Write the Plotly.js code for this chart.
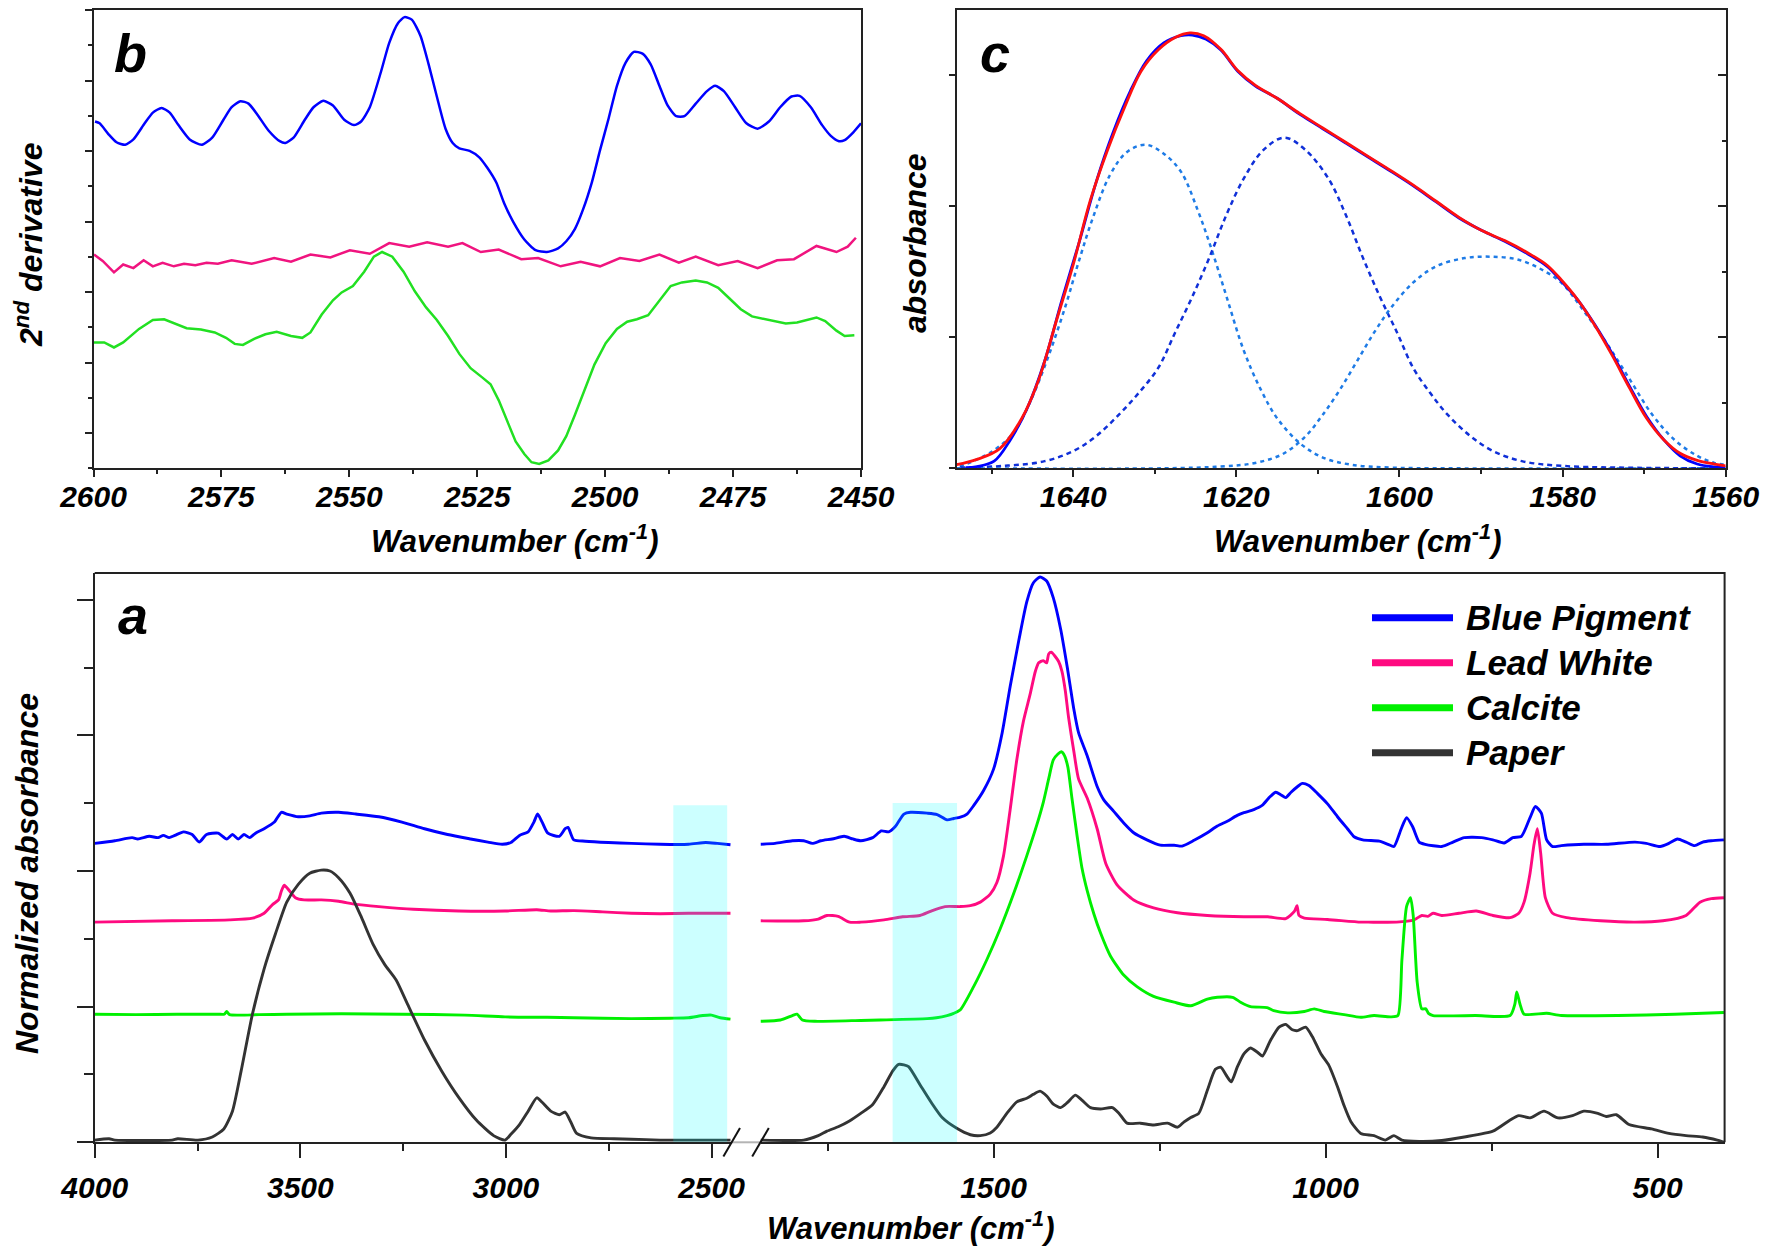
<!DOCTYPE html>
<html><head><meta charset="utf-8">
<script src="https://cdn.plot.ly/plotly-3.0.1.min.js"></script>
<style>html,body{margin:0;padding:0;background:#fff;}#chart{width:1770px;height:1257px;}</style>
</head><body><div id="chart"></div>
<script>
// ---------- Panel a : FTIR spectra (normalized absorbance, stacked) ----------
const seriesNames = ['Blue Pigment', 'Lead White', 'Calcite', 'Paper'];
const seriesColors = ['#0000FF', '#FF0A80', '#00F000', '#333333'];

// left segment 4000-2450 cm-1
const blueWnL = [4000,3951,3909,3895,3867,3846,3833,3819,3805,3784,3763,3746,3728,3700,3679,3665,3651,3637,3623,3609,3588,3563,3546,3533,3505,3477,3449,3407,3365,3309,3253,3198,3142,3086,3044,3009,2988,2967,2946,2932,2923,2912,2898,2870,2856,2849,2835,2807,2751,2695,2625,2556,2514,2486,2454];
const blueAbsL = [6.72,6.78,6.85,6.82,6.88,6.85,6.90,6.85,6.90,6.98,6.92,6.75,6.92,6.95,6.82,6.92,6.82,6.92,6.85,6.95,7.05,7.20,7.42,7.38,7.32,7.34,7.40,7.42,7.38,7.32,7.20,7.05,6.92,6.82,6.75,6.70,6.74,6.90,6.98,7.20,7.38,7.20,6.95,6.88,7.05,7.08,6.80,6.77,6.74,6.72,6.70,6.70,6.74,6.72,6.69];
const leadWnL = [4000,3812,3672,3616,3588,3567,3553,3546,3539,3526,3512,3491,3449,3407,3365,3309,3225,3114,3002,2925,2891,2835,2765,2695,2625,2556,2454];
const leadAbsL = [4.95,4.98,5.00,5.04,5.15,5.35,5.45,5.65,5.78,5.65,5.50,5.45,5.45,5.42,5.35,5.30,5.24,5.20,5.20,5.23,5.20,5.21,5.18,5.15,5.14,5.15,5.15];
const calWnL = [4000,3900,3800,3700,3685,3679,3672,3600,3533,3400,3253,3100,3002,2900,2835,2695,2600,2556,2521,2500,2479,2454];
const calAbsL = [2.88,2.87,2.88,2.88,2.88,2.94,2.87,2.87,2.88,2.89,2.88,2.86,2.82,2.81,2.80,2.78,2.79,2.80,2.85,2.86,2.80,2.77];
const paperWnL = [4000,3965,3951,3812,3798,3749,3714,3686,3665,3644,3616,3588,3560,3533,3505,3477,3449,3428,3407,3379,3351,3323,3295,3267,3239,3198,3156,3114,3072,3030,3002,2988,2967,2946,2925,2912,2891,2870,2856,2842,2828,2793,2737,2695,2625,2556,2454];
const paperAbsL = [0.05,0.08,0.05,0.05,0.08,0.05,0.12,0.30,0.70,1.60,2.90,3.90,4.70,5.40,5.80,6.05,6.12,6.10,5.95,5.60,5.05,4.45,4.00,3.65,3.10,2.30,1.60,1.00,0.50,0.15,0.05,0.18,0.40,0.70,1.00,0.90,0.70,0.62,0.68,0.45,0.20,0.10,0.08,0.07,0.05,0.05,0.05];

// right segment 1850-400 cm-1
const blueWnR = [1851,1829,1803,1786,1773,1760,1743,1725,1712,1700,1682,1669,1658,1648,1635,1625,1600,1585,1570,1560,1550,1540,1530,1515,1500,1487,1475,1462,1450,1440,1430,1420,1410,1399,1389,1379,1372,1359,1344,1334,1319,1304,1289,1269,1249,1228,1216,1198,1178,1163,1148,1133,1123,1108,1095,1085,1075,1067,1060,1052,1042,1035,1025,1012,997,982,967,957,944,919,906,897,886,878,869,859,850,825,808,791,765,748,731,718,705,692,684,675,667,658,645,611,577,534,517,496,483,470,457,444,432,419,400];
const blueAbsR = [6.70,6.72,6.78,6.78,6.72,6.78,6.82,6.88,6.82,6.78,6.85,7.00,6.98,7.10,7.38,7.42,7.40,7.37,7.25,7.28,7.31,7.38,7.57,7.91,8.39,9.21,10.25,11.28,12.15,12.58,12.71,12.62,12.24,11.54,10.68,9.73,9.21,8.69,8.00,7.70,7.44,7.18,6.96,6.80,6.68,6.68,6.66,6.79,6.96,7.11,7.22,7.35,7.41,7.48,7.58,7.75,7.87,7.81,7.75,7.87,8.00,8.07,8.02,7.84,7.61,7.32,7.05,6.87,6.80,6.77,6.70,6.65,7.05,7.30,7.10,6.75,6.70,6.65,6.75,6.85,6.85,6.80,6.73,6.85,6.88,7.30,7.55,7.40,6.80,6.65,6.67,6.70,6.70,6.75,6.72,6.65,6.72,6.82,6.75,6.67,6.75,6.78,6.80];
const leadWnR = [1851,1786,1764,1751,1734,1717,1700,1665,1637,1611,1594,1573,1550,1535,1520,1505,1495,1485,1475,1465,1455,1445,1437,1432,1425,1420,1417,1413,1408,1402,1397,1392,1387,1379,1372,1359,1344,1331,1314,1289,1259,1223,1178,1123,1087,1060,1047,1043,1040,1032,997,947,936,893,867,855,846,838,825,799,773,748,722,709,701,692,686,681,676,669,658,637,586,534,492,457,436,419,400];
const leadAbsR = [4.98,4.98,5.02,5.10,5.08,4.95,4.95,5.00,5.07,5.10,5.20,5.30,5.30,5.32,5.40,5.58,5.84,6.44,7.48,8.60,9.47,10.07,10.59,10.78,10.83,10.78,10.98,11.02,10.94,10.81,10.59,10.16,9.55,8.78,8.17,7.74,7.05,6.27,5.79,5.45,5.27,5.16,5.10,5.07,5.07,5.03,5.19,5.32,5.10,5.04,5.01,4.95,4.95,4.95,5.00,5.10,5.08,5.15,5.10,5.15,5.20,5.10,5.05,5.15,5.40,6.05,6.70,7.05,6.50,5.50,5.15,5.05,4.98,4.95,4.98,5.10,5.40,5.48,5.50];
const calWnR = [1851,1821,1803,1796,1788,1769,1700,1671,1600,1586,1570,1560,1550,1530,1510,1490,1470,1450,1435,1425,1417,1410,1403,1398,1393,1388,1382,1374,1367,1359,1349,1339,1324,1304,1284,1259,1228,1203,1178,1163,1140,1128,1113,1088,1078,1057,1032,1017,1002,972,947,927,902,891,885,878,872,868,862,855,849,845,838,774,722,715,712,707,701,667,645,560,474,400];
const calAbsR = [2.72,2.75,2.85,2.88,2.75,2.72,2.74,2.75,2.78,2.80,2.85,2.90,2.98,3.50,4.11,4.80,5.58,6.44,7.13,7.65,8.17,8.60,8.73,8.78,8.69,8.43,7.74,6.87,6.18,5.66,5.14,4.71,4.19,3.76,3.50,3.28,3.15,3.07,3.22,3.26,3.26,3.15,3.05,3.03,2.96,2.91,2.94,3.00,2.94,2.87,2.81,2.85,2.82,2.85,4.10,5.30,5.50,5.10,3.60,3.00,3.00,2.90,2.85,2.85,2.85,3.10,3.38,3.10,2.88,2.90,2.85,2.85,2.88,2.92];
const paperWnR = [1851,1786,1764,1751,1734,1717,1700,1682,1665,1652,1643,1635,1628,1611,1594,1577,1556,1535,1520,1505,1495,1480,1465,1450,1440,1430,1420,1410,1399,1389,1377,1367,1354,1339,1321,1311,1299,1279,1259,1238,1223,1213,1203,1191,1178,1166,1158,1148,1142,1133,1123,1113,1103,1095,1083,1070,1060,1050,1042,1030,1020,1007,995,982,972,962,947,927,910,897,885,859,825,791,748,722,709,692,671,650,628,611,590,577,562,543,509,483,457,432,410,399];
const paperAbsR = [0.05,0.05,0.15,0.25,0.35,0.48,0.65,0.85,1.25,1.60,1.75,1.74,1.70,1.30,0.90,0.55,0.32,0.17,0.15,0.21,0.34,0.65,0.91,0.99,1.08,1.15,1.04,0.86,0.78,0.89,1.06,0.95,0.78,0.75,0.78,0.65,0.43,0.43,0.39,0.43,0.34,0.46,0.56,0.65,1.17,1.64,1.69,1.47,1.36,1.69,1.99,2.12,2.03,1.94,2.29,2.59,2.65,2.53,2.51,2.59,2.38,1.99,1.73,1.25,0.82,0.47,0.20,0.15,0.05,0.15,0.05,0.02,0.04,0.12,0.25,0.50,0.60,0.55,0.70,0.55,0.60,0.70,0.65,0.58,0.62,0.40,0.30,0.20,0.15,0.12,0.05,0.00];

// highlighted regions (cm-1)
const bandCO = [2593, 2462];
const bandOH = [1652, 1555];
const bandTop = [7.58, 7.63];

// ---------- Panel b : 2nd derivative 2600-2450 ----------
const bBlueWn = [2599.7,2598.8,2597.1,2595.5,2593.8,2592.2,2590,2588.4,2586.7,2585.1,2583.4,2581.2,2578.8,2576.8,2574.6,2573,2571.3,2569.7,2568,2565.8,2563.6,2562.5,2560.9,2558.7,2557,2555.1,2553.2,2551,2549.1,2547.7,2546,2543.8,2542.2,2540.5,2539.2,2537.8,2536.1,2534.5,2532.9,2531.2,2529.8,2528.5,2526.5,2524.6,2523,2521.3,2519.7,2518,2515.8,2513.6,2511.4,2509.2,2507.6,2505.9,2504.3,2502.6,2501,2499.3,2497.7,2496,2494.4,2492.7,2491.1,2489.4,2487.8,2486.1,2484.5,2482.3,2480.1,2478.5,2476.8,2474.6,2472.4,2470.2,2468,2465.8,2463.6,2462,2459.8,2457.6,2455.9,2454.3,2453.2,2451.5,2450];
const bBlueVal = [9.70,9.65,9.35,9.12,9.05,9.20,9.65,9.95,10.08,9.95,9.60,9.20,9.05,9.25,9.75,10.10,10.27,10.20,9.90,9.45,9.15,9.10,9.25,9.75,10.10,10.28,10.15,9.75,9.60,9.70,10.10,11.10,11.90,12.45,12.62,12.55,12.10,11.30,10.40,9.50,9.10,8.95,8.88,8.70,8.40,8.00,7.40,6.90,6.40,6.10,6.05,6.15,6.35,6.70,7.25,8.00,8.90,9.80,10.70,11.35,11.65,11.60,11.30,10.70,10.15,9.85,9.85,10.20,10.55,10.70,10.55,10.10,9.65,9.50,9.70,10.10,10.40,10.42,10.10,9.60,9.30,9.15,9.18,9.40,9.65];
const bLeadWn = [2599.9,2598.2,2596,2594.2,2592.2,2590.2,2588.4,2586.5,2584.3,2582.3,2580.1,2577.9,2575.7,2573,2569.1,2564.7,2561.4,2557.6,2553.7,2549.9,2546,2542.2,2538.3,2534.8,2530.7,2527.9,2524.3,2520.8,2516.4,2513.1,2508.7,2504.8,2501,2497.1,2493.3,2489.4,2485.6,2482.3,2477.9,2474.1,2470.2,2466.4,2463.1,2460.3,2458.7,2454.8,2452.6,2451];
const bLeadVal = [5.98,5.80,5.48,5.70,5.60,5.82,5.65,5.75,5.65,5.72,5.68,5.75,5.72,5.82,5.72,5.88,5.78,5.98,5.90,6.10,6.00,6.30,6.20,6.32,6.20,6.30,6.05,6.12,5.85,5.88,5.65,5.78,5.65,5.88,5.80,5.98,5.75,5.92,5.68,5.80,5.60,5.82,5.85,6.10,6.22,6.05,6.20,6.45];
const bCalWn = [2599.9,2597.9,2596,2594.2,2591.1,2588.4,2586.2,2584,2581.8,2579,2576.3,2574.1,2572.4,2570.8,2568.6,2566.4,2564.2,2561.4,2559.2,2557.6,2555.4,2553.2,2551.5,2549.3,2547.1,2545.2,2543.6,2541.6,2539.4,2537.2,2535,2532.9,2530.7,2528.5,2526.3,2524.1,2522.4,2520.8,2519.1,2517.5,2515.8,2514.4,2512.9,2511.1,2509.2,2507.6,2505.9,2504.3,2502.1,2499.9,2497.7,2495.7,2493.8,2491.6,2489.4,2487.2,2485,2482.3,2480.1,2477.9,2475.7,2473.5,2471.3,2468,2464.7,2462.5,2460.3,2458.7,2457,2454.8,2453.2,2451.3];
const bCalVal = [3.52,3.52,3.38,3.52,3.90,4.15,4.17,4.05,3.92,3.88,3.80,3.65,3.48,3.45,3.62,3.75,3.82,3.70,3.65,3.80,4.30,4.70,4.92,5.10,5.50,5.92,6.05,5.92,5.50,4.95,4.50,4.15,3.70,3.20,2.80,2.55,2.35,1.90,1.30,0.75,0.40,0.17,0.12,0.22,0.50,0.90,1.50,2.10,2.90,3.50,3.90,4.10,4.17,4.28,4.70,5.10,5.20,5.25,5.20,5.05,4.75,4.45,4.25,4.15,4.05,4.08,4.15,4.22,4.12,3.85,3.70,3.72];

// ---------- Panel c : curve fitting 1655-1560 ----------
const cMeasWn = [1653.2,1651.8,1649.7,1647.7,1645.6,1643.5,1641.4,1639.3,1637.2,1635.1,1633,1631,1628.9,1626.8,1625.4,1623.7,1621.9,1619.8,1617.7,1615,1612.2,1609.4,1606.6,1603.8,1601,1598.3,1595.5,1592.7,1589.9,1587.1,1584.3,1581.9,1580.2,1578.1,1576,1573.9,1571.8,1569.7,1567.6,1565.6,1563.5,1561.4,1560];
const cMeasVal = [0.02,0.05,0.20,0.80,1.70,3.00,4.70,6.30,8.00,9.40,10.55,11.40,11.90,12.10,12.12,12.00,11.70,11.10,10.70,10.35,9.90,9.50,9.10,8.70,8.30,7.90,7.45,7.00,6.65,6.35,6.00,5.65,5.25,4.70,4.00,3.20,2.30,1.45,0.80,0.35,0.12,0.04,0.02];
const cFitWn = [1654.3,1651.8,1649,1646.3,1644.2,1642.1,1640,1637.9,1635.8,1633.7,1631.7,1629.6,1627.5,1625.7,1624,1621.9,1619.8,1617.7,1615,1612.2,1609.4,1606.6,1603.8,1601,1598.3,1595.5,1592.7,1589.9,1587.1,1584.3,1581.9,1580.2,1578.1,1576,1573.9,1571.8,1569.7,1567.6,1565.6,1563.5,1561.4,1560];
const cFitVal = [0.10,0.25,0.55,1.40,2.50,4.10,5.70,7.50,8.90,10.10,11.10,11.70,12.05,12.18,12.10,11.72,11.12,10.72,10.35,9.92,9.52,9.12,8.72,8.32,7.92,7.47,7.02,6.65,6.37,6.03,5.68,5.28,4.70,3.98,3.15,2.25,1.40,0.80,0.42,0.22,0.12,0.07];
const cBand1Wn = [1653.9,1650.1,1647.3,1645.2,1643.1,1641,1639.3,1637.6,1635.5,1633.4,1631.1,1628.9,1626.8,1624.7,1623,1621.2,1619.1,1617,1615,1612.2,1609.4,1605.9,1601,1594.1,1560];
const cBand1Val = [0.05,0.45,1.0,1.9,3.1,4.5,5.8,7.0,8.2,8.85,9.05,8.80,8.30,7.20,6.10,4.80,3.30,2.20,1.40,0.70,0.30,0.10,0.02,0.00,0.00];
const cBand2Wn = [1653.9,1648.3,1643.5,1640,1637.2,1634.4,1632,1629.6,1627.5,1625.4,1623.3,1621.2,1619.1,1616.7,1614.1,1611.5,1608.7,1606.6,1604.5,1602.4,1600.3,1598.3,1596.2,1594.1,1591.3,1588.5,1585,1580.2,1573.2,1560];
const cBand2Val = [0.02,0.07,0.20,0.48,0.90,1.50,2.10,2.80,3.80,4.80,5.90,7.10,8.10,8.90,9.25,8.90,8.10,7.10,5.90,4.80,3.80,2.80,2.10,1.50,0.90,0.48,0.20,0.07,0.02,0.00];
const cBand3Wn = [1654.3,1628.9,1621.9,1617.7,1614.3,1611.5,1609.4,1607.3,1605.2,1603.1,1601,1598.3,1595.5,1592,1588.9,1585.7,1582.9,1580.2,1577.4,1574.6,1571.8,1569,1566.3,1563.5,1561.4,1560];
const cBand3Val = [0.00,0.00,0.05,0.15,0.40,0.90,1.50,2.20,3.00,3.80,4.50,5.20,5.65,5.88,5.92,5.85,5.60,5.20,4.40,3.50,2.50,1.50,0.80,0.35,0.15,0.10];

// ---------- layout helpers ----------
const W = 1770, H = 1257;
const fx = p => p / W;
const fy = p => 1 - p / H;
const FONT = 'Liberation Sans, Arial, Helvetica, sans-serif';
const AX = '#222222';
const tickFont = {family: FONT, size: 30, color: '#000', weight: 'bold', style: 'italic'};

function line(x, y, xa, ya, color, width, extra) {
  return Object.assign({x: x, y: y, xaxis: xa, yaxis: ya, type: 'scatter', mode: 'lines',
    line: Object.assign({color: color, width: width}, extra || {}), showlegend: false, hoverinfo: 'skip'});
}

const aLeft = [[blueWnL, blueAbsL], [leadWnL, leadAbsL], [calWnL, calAbsL], [paperWnL, paperAbsL]];
const aRight = [[blueWnR, blueAbsR], [leadWnR, leadAbsR], [calWnR, calAbsR], [paperWnR, paperAbsR]];
const traces = [];
for (let i = 0; i < 4; i++) {
  traces.push(line(aLeft[i][0], aLeft[i][1], 'x3', 'y3', seriesColors[i], 2.9, {shape: 'spline', smoothing: 0.6}));
  traces.push(line(aRight[i][0], aRight[i][1], 'x4', 'y3', seriesColors[i], 2.9, {shape: 'spline', smoothing: 0.6}));
}
traces.push(line(bBlueWn, bBlueVal, 'x', 'y', '#0000FF', 2.5, {shape: 'spline', smoothing: 0.6}));
traces.push(line(bLeadWn, bLeadVal, 'x', 'y', '#F0147F', 2.5));
traces.push(line(bCalWn, bCalVal, 'x', 'y', '#22E022', 2.5));
traces.push(line(cBand1Wn, cBand1Val, 'x2', 'y2', '#1E7BE6', 2.5, {shape: 'spline', dash: '4px,4px'}));
traces.push(line(cBand2Wn, cBand2Val, 'x2', 'y2', '#1030D8', 2.5, {shape: 'spline', dash: '5px,4px'}));
traces.push(line(cBand3Wn, cBand3Val, 'x2', 'y2', '#1E7BE6', 2.5, {shape: 'spline', dash: '4px,4px'}));
traces.push(line(cMeasWn, cMeasVal, 'x2', 'y2', '#0000FF', 2.8, {shape: 'spline'}));
traces.push(line(cFitWn, cFitVal, 'x2', 'y4', '#FF1010', 2.8, {shape: 'spline'}));

const baseX = {showgrid: false, zeroline: false, showline: true, linecolor: AX, linewidth: 2,
  ticks: 'outside', tickcolor: AX, tickwidth: 2, tickfont: tickFont, tick0: 0};
const baseY = {showgrid: false, zeroline: false, showline: true, linecolor: AX, linewidth: 2,
  ticks: 'outside', tickcolor: AX, tickwidth: 2, showticklabels: false};

const layout = {
  width: W, height: H, margin: {l: 0, r: 0, t: 0, b: 0, pad: 0},
  paper_bgcolor: '#fff', plot_bgcolor: 'rgba(0,0,0,0)', showlegend: false, hovermode: false,
  // panel b
  xaxis: Object.assign({}, baseX, {domain: [fx(93.5), fx(861)], range: [2600, 2450], anchor: 'y', mirror: true,
    ticklen: 7, dtick: 25, ticklabelstandoff: -6,
    minor: {ticks: 'outside', ticklen: 3.5, dtick: 12.5, tickcolor: AX, tickwidth: 2}}),
  yaxis: Object.assign({}, baseY, {domain: [fy(468.3), fy(10)], range: [0, 12.82], anchor: 'x', mirror: true,
    ticklen: 7, tick0: 0.986, dtick: 1.972,
    minor: {ticks: 'outside', ticklen: 3.5, tick0: 0, dtick: 1.972, tickcolor: AX, tickwidth: 2}}),
  // panel c
  xaxis2: Object.assign({}, baseX, {domain: [fx(956.6), fx(1725.7)], range: [1654.3, 1560], anchor: 'y2', mirror: true,
    ticklen: 7, dtick: 20, ticklabelstandoff: -6,
    minor: {ticks: 'outside', ticklen: 3.5, dtick: 10, tickcolor: AX, tickwidth: 2}}),
  yaxis2: Object.assign({}, baseY, {domain: [fy(468.3), fy(10)], range: [0, 12.82], anchor: 'x2', mirror: true,
    ticklen: 6, tick0: 0, dtick: 3.663}),
  yaxis4: Object.assign({}, baseY, {overlaying: 'y2', side: 'right', anchor: 'x2', range: [0, 12.82], showline: false,
    ticks: 'inside', ticklen: 8, tick0: 0, dtick: 3.663,
    minor: {ticks: 'inside', ticklen: 4, tick0: 1.831, dtick: 3.663, tickcolor: AX, tickwidth: 2}}),
  // panel a (broken axis)
  xaxis3: Object.assign({}, baseX, {domain: [fx(94.7), fx(731.7)], range: [4000, 2451], anchor: 'y3',
    ticklen: 14, dtick: 500, ticklabelstandoff: 4,
    minor: {ticks: 'outside', ticklen: 7, dtick: 250, tickcolor: AX, tickwidth: 2}}),
  xaxis4: Object.assign({}, baseX, {domain: [fx(760.5), fx(1724.6)], range: [1851, 399], anchor: 'y3',
    ticklen: 14, dtick: 500, ticklabelstandoff: 4,
    minor: {ticks: 'outside', ticklen: 7, dtick: 250, tickcolor: AX, tickwidth: 2}}),
  yaxis3: Object.assign({}, baseY, {domain: [fy(1142.3), fy(573)], range: [0, 12.8], anchor: 'x3',
    ticklen: 15.5, tick0: 0, dtick: 3.05,
    minor: {ticks: 'outside', ticklen: 8.3, tick0: 1.525, dtick: 3.05, tickcolor: AX, tickwidth: 2}}),
  shapes: [], annotations: []
};

// highlighted bands (drawn over the spectra, translucent)
layout.shapes.push({type: 'rect', xref: 'x3', yref: 'y3', x0: bandCO[0], x1: bandCO[1], y0: 0, y1: bandTop[0],
  fillcolor: 'rgba(0,255,255,0.2)', line: {width: 0}, layer: 'above'});
layout.shapes.push({type: 'rect', xref: 'x4', yref: 'y3', x0: bandOH[0], x1: bandOH[1], y0: 0, y1: bandTop[1],
  fillcolor: 'rgba(0,255,255,0.2)', line: {width: 0}, layer: 'above'});
// frame of panel a (top + right), gap line, break marks
layout.shapes.push({type: 'path', xref: 'paper', yref: 'paper',
  path: `M ${fx(94.7)},${fy(573)} L ${fx(1724.6)},${fy(573)} L ${fx(1724.6)},${fy(1142.3)}`,
  line: {color: AX, width: 2}});
layout.shapes.push({type: 'line', xref: 'paper', yref: 'paper', x0: fx(731.7), x1: fx(760.5), y0: fy(1142.3), y1: fy(1142.3),
  line: {color: '#b4b4b4', width: 2}});
[731.7, 760.5].forEach(cx => {
  layout.shapes.push({type: 'line', xref: 'paper', yref: 'paper', x0: fx(cx - 8.3), x1: fx(cx + 8.3),
    y0: fy(1142.3 + 14.3), y1: fy(1142.3 - 14.3), line: {color: '#111', width: 2}});
});

// legend (drawn manually to get long, thick line samples)
for (let i = 0; i < 4; i++) {
  const yy = 617.7 + 45 * i;
  layout.shapes.push({type: 'line', xref: 'paper', yref: 'paper', x0: fx(1372), x1: fx(1453), y0: fy(yy), y1: fy(yy),
    line: {color: seriesColors[i], width: 7}});
  layout.annotations.push({xref: 'paper', yref: 'paper', x: fx(1464), y: fy(yy), xanchor: 'left', yanchor: 'middle',
    showarrow: false, text: seriesNames[i], font: {family: FONT, size: 35, color: '#000', weight: 'bold', style: 'italic'}});
}

function label(txt, x, y, size, angle) {
  layout.annotations.push({xref: 'paper', yref: 'paper', x: fx(x), y: fy(y), xanchor: 'center', yanchor: 'middle',
    showarrow: false, text: txt, textangle: angle || 0,
    font: {family: FONT, size: size, color: '#000', weight: 'bold', style: 'italic'}});
}
label('b', 130, 53, 54);
label('c', 995, 53, 54);
label('a', 133, 615, 54);
label('Wavenumber (cm<sup>-1</sup>)', 514, 539, 31);
label('Wavenumber (cm<sup>-1</sup>)', 1357, 539, 31);
label('Wavenumber (cm<sup>-1</sup>)', 910, 1226, 31);
label('2<sup>nd</sup> derivative', 29, 245, 32, -90);
label('absorbance', 915, 243, 32, -90);
label('Normalized absorbance', 27, 874, 32, -90);

Plotly.newPlot('chart', traces, layout, {displayModeBar: false, staticPlot: true});
</script></body></html>
